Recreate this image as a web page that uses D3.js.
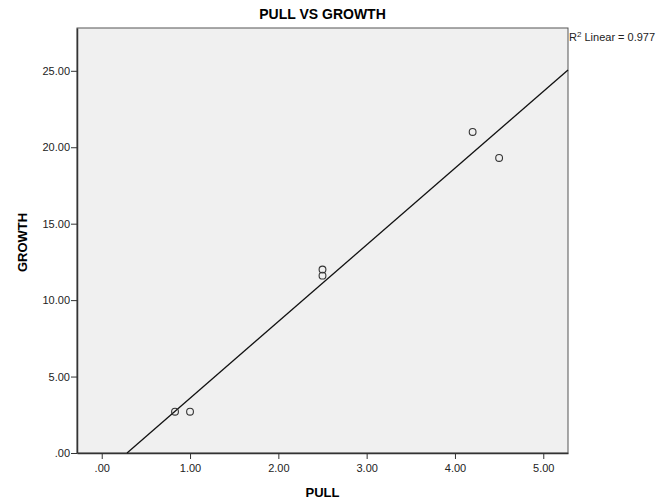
<!DOCTYPE html>
<html lang="en">
<head>
<meta charset="UTF-8">
<title>PULL VS GROWTH</title>
<script src="https://d3js.org/d3.v7.min.js"></script>
<style>
  body { margin: 0; background: #fff; font-family: "Liberation Sans", Arial, sans-serif; }
  .tick text { fill: #222; font-size: 11px; }
  .axis-label { font-size: 13px; font-weight: bold; }
</style>
</head>
<body>
<div id="chart"></div>
<script>
// data
const pull   = [0.83, 1.00, 2.50, 2.50, 4.20, 4.50];
const growth = [2.70, 2.70, 12.00, 11.60, 21.00, 19.30];
const xTicks = [0, 1, 2, 3, 4, 5];
const yTicks = [0, 5, 10, 15, 20, 25];
const fmt = v => v === 0 ? ".00" : v.toFixed(2);

const W = 671, H = 502;
const margin = { top: 28, right: 103, bottom: 49, left: 77 },
      width = W - margin.left - margin.right,
      height = H - margin.top - margin.bottom;

const svg = d3.select("#chart").append("svg")
    .attr("width", W).attr("height", H);

const g = svg.append("g")
    .attr("transform", `translate(${margin.left},${margin.top})`);

const x = d3.scaleLinear().domain([-0.28, 5.28]).range([0, width]);
const y = d3.scaleLinear().domain([0, 27.8]).range([height, 0]);

// plot background
g.append("rect")
    .attr("width", width).attr("height", height)
    .attr("fill", "#f0f0f0")
    .attr("stroke", "#555").attr("stroke-width", 1);

// axes
const xAxis = g.append("g")
    .attr("transform", `translate(0,${height})`)
    .call(d3.axisBottom(x).tickValues(xTicks).tickFormat(fmt).tickSize(6).tickSizeOuter(0));
const yAxis = g.append("g")
    .call(d3.axisLeft(y).tickValues(yTicks).tickFormat(fmt).tickSize(6).tickSizeOuter(0));
[xAxis, yAxis].forEach(a => {
    a.select(".domain").attr("stroke", "#333").attr("stroke-width", 1.5);
    a.selectAll(".tick line").attr("stroke", "#333");
    a.selectAll(".tick text").attr("font-family", "Liberation Sans, Arial, sans-serif");
});
xAxis.selectAll(".tick text").attr("dy", "0.9em");
yAxis.selectAll(".tick text").attr("x", -7);

// least squares fit line
const mx = d3.mean(pull), my = d3.mean(growth);
const sxy = d3.sum(pull, (v, i) => (v - mx) * (growth[i] - my));
const sxx = d3.sum(pull, v => (v - mx) ** 2);
const syy = d3.sum(growth, v => (v - my) ** 2);
const slope = sxy / sxx, icpt = my - slope * mx;
const r2 = (sxy * sxy) / (sxx * syy);

const x0 = Math.max(x.domain()[0], (y.domain()[0] - icpt) / slope);
const x1 = Math.min(x.domain()[1], (y.domain()[1] - icpt) / slope);
g.append("line")
    .attr("x1", x(x0)).attr("y1", y(icpt + slope * x0))
    .attr("x2", x(x1)).attr("y2", y(icpt + slope * x1))
    .attr("stroke", "#111").attr("stroke-width", 1.3);

// points
g.selectAll("circle")
    .data(pull.map((v, i) => [v, growth[i]]))
    .enter().append("circle")
    .attr("cx", d => x(d[0]))
    .attr("cy", d => y(d[1]))
    .attr("r", 3.4)
    .attr("fill", "none")
    .attr("stroke", "#333")
    .attr("stroke-width", 1.1);

// title
svg.append("text")
    .attr("x", margin.left + width / 2).attr("y", 19)
    .attr("text-anchor", "middle")
    .attr("font-size", "14px").attr("font-weight", "bold")
    .text("PULL VS GROWTH");

// R2 label
const r2t = svg.append("text")
    .attr("x", margin.left + width + 1).attr("y", 41)
    .attr("font-size", "11px").attr("fill", "#222");
r2t.append("tspan").text("R");
r2t.append("tspan").attr("dy", -4).attr("font-size", "8px").text("2");
r2t.append("tspan").attr("dy", 4).text(" Linear = " + r2.toFixed(3));

// axis labels
svg.append("text")
    .attr("class", "axis-label")
    .attr("x", margin.left + width / 2).attr("y", 497)
    .attr("text-anchor", "middle")
    .text("PULL");
svg.append("text")
    .attr("class", "axis-label")
    .attr("transform", `translate(27,${margin.top + height / 2 + 2}) rotate(-90)`)
    .attr("text-anchor", "middle")
    .text("GROWTH");
</script>
</body>
</html>
